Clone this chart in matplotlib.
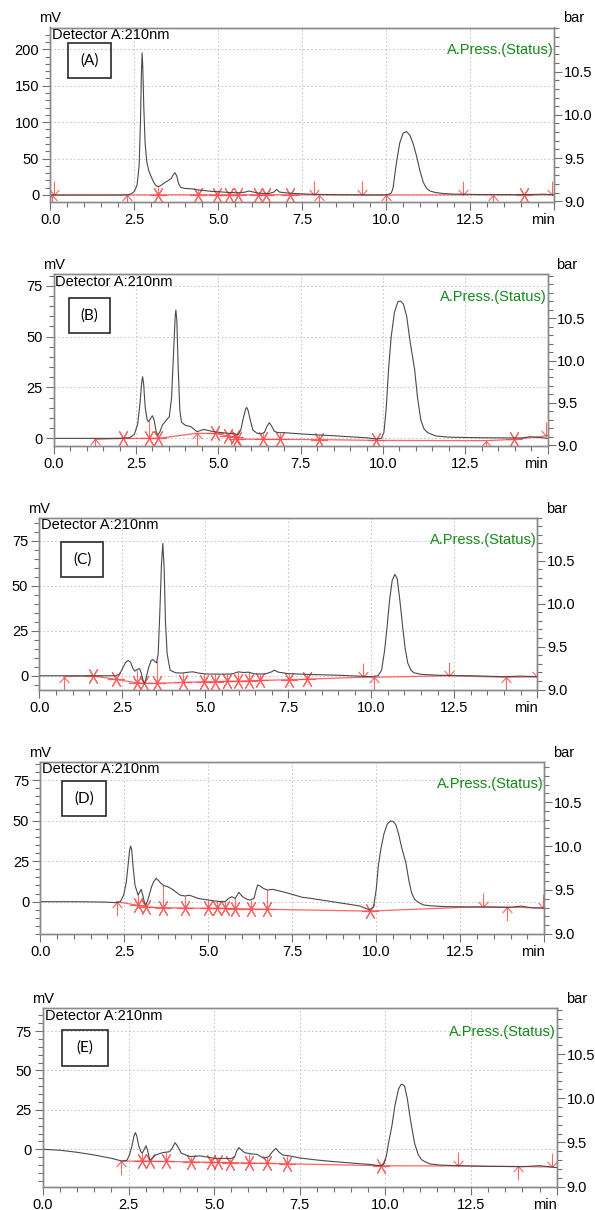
import numpy as np
import matplotlib
matplotlib.use('Agg')
import matplotlib.pyplot as plt
from matplotlib.path import Path
from matplotlib.patches import Rectangle
from matplotlib.ticker import MultipleLocator

plt.rcParams['font.family'] = ['Liberation Sans', 'DejaVu Sans']

# chromatogram traces: (retention time [min], signal [mV])
trace_a = [(0.0, 0.0), (0.5, 0.0), (1.0, 0.0), (1.5, 0.0), (2.0, 0.0), (2.3, 0.3), (2.4, 1.5),
           (2.5, 5), (2.58, 14), (2.64, 40), (2.68, 100), (2.71, 170), (2.73, 195), (2.75, 175),
           (2.78, 120), (2.82, 70), (2.87, 45), (2.93, 33), (3.0, 25), (3.08, 17), (3.15, 12.5),
           (3.22, 11.5), (3.3, 13.5), (3.4, 17), (3.5, 19.5), (3.6, 23), (3.66, 28), (3.71, 30.5),
           (3.76, 26), (3.82, 15), (3.88, 10.5), (4.0, 9), (4.2, 8.5), (4.4, 7), (4.6, 6), (4.8, 5),
           (5.0, 4.5), (5.3, 3.5), (5.6, 3), (5.8, 4), (5.9, 5.5), (6.0, 4.5), (6.2, 2.5), (6.5, 2),
           (6.65, 4), (6.73, 7.5), (6.82, 4), (7.0, 3), (7.3, 2), (7.6, 1.3), (8.0, 0.8), (8.5, 0.4),
           (9.0, 0.2), (9.5, 0), (9.9, 0), (10.05, 0.5), (10.15, 3), (10.2, 10), (10.25, 28),
           (10.3, 45), (10.4, 72), (10.5, 85), (10.6, 87), (10.7, 82), (10.8, 70), (10.9, 53),
           (10.95, 43), (11.0, 33), (11.1, 17), (11.2, 9), (11.3, 5.5), (11.45, 3.5), (11.7, 2),
           (12.0, 1.2), (12.5, 0.8), (13.0, 0.5), (13.5, 0.5), (14.0, 0.5), (14.5, 0.8), (14.7, 1.2),
           (14.85, 0.6), (15.0, 0.3)]

trace_b = [(0.0, 0), (0.5, 0), (1.0, 0), (1.5, 0), (2.0, 0), (2.3, 0.3), (2.45, 2), (2.55, 7),
           (2.62, 17), (2.67, 27), (2.7, 30.3), (2.73, 27), (2.78, 15), (2.84, 9), (2.88, 8.2),
           (2.95, 10), (3.0, 11.1), (3.05, 9), (3.11, 3.5), (3.16, 1.6), (3.22, 3), (3.3, 6.5),
           (3.42, 9), (3.51, 10.6), (3.58, 20), (3.64, 42), (3.69, 60), (3.71, 63), (3.74, 58),
           (3.78, 35), (3.83, 14), (3.88, 8), (3.99, 6.5), (4.17, 5.7), (4.35, 3.3), (4.45, 3.8),
           (4.55, 4.4), (4.8, 3.5), (5.0, 3), (5.3, 2.5), (5.5, 2.2), (5.6, 1.8), (5.68, 4),
           (5.76, 10), (5.83, 14.5), (5.86, 15.2), (5.9, 14), (5.97, 9), (6.05, 4), (6.18, 2.5),
           (6.3, 2.2), (6.4, 3), (6.48, 6), (6.55, 7.7), (6.62, 6), (6.7, 3.5), (6.81, 2.8),
           (7.0, 2.8), (7.5, 2.2), (8.0, 1.7), (8.5, 1.3), (9.0, 0.8), (9.5, 0.3), (9.8, -0.3),
           (9.95, 0), (10.03, 3), (10.1, 15), (10.17, 34), (10.25, 50), (10.35, 62), (10.45, 67),
           (10.53, 67.5), (10.62, 66), (10.72, 60), (10.82, 48), (10.9, 40), (10.96, 34),
           (11.05, 20), (11.15, 9), (11.25, 4.5), (11.36, 2.8), (11.6, 1.2), (12.0, 0.6),
           (13.0, 0.3), (14.2, 0.2), (14.47, 0.8), (14.7, 0.5), (15.0, 0)]

trace_c = [(0.0, 0), (0.5, 0), (1.0, 0), (1.5, 0), (2.0, 0), (2.3, 0), (2.42, 1), (2.52, 4.5),
           (2.6, 7.5), (2.68, 8.5), (2.75, 7.5), (2.82, 4), (2.88, 2.6), (2.95, 3.5), (3.02, 4),
           (3.08, 1), (3.13, -3), (3.17, -4.3), (3.22, -1), (3.3, 5), (3.37, 8.5), (3.42, 9),
           (3.48, 8), (3.53, 7.2), (3.58, 12), (3.63, 35), (3.68, 62), (3.72, 73.5), (3.76, 60),
           (3.8, 30), (3.85, 12.4), (3.94, 3.1), (4.1, 1.7), (4.3, 1.5), (4.5, 2), (4.62, 2.2),
           (4.8, 1.5), (5.0, 1), (5.5, 0.9), (5.8, 1), (6.0, 2.2), (6.15, 1.8), (6.3, 2), (6.5, 1),
           (6.8, 1), (7.0, 2.2), (7.08, 3.1), (7.2, 2), (7.5, 1.2), (8.0, 0.8), (9.0, 0.3),
           (10.0, -0.5), (10.2, 0), (10.31, 3), (10.4, 14), (10.48, 28), (10.55, 42), (10.63, 53),
           (10.71, 56.3), (10.78, 54), (10.86, 42), (10.94, 28), (11.02, 15), (11.1, 7), (11.2, 3),
           (11.28, 1.7), (11.5, 0.8), (12.0, 0.3), (13.0, 0), (14.0, -0.5), (14.5, -0.2), (15.0, -0.5)]

trace_d = [(0.0, 0), (0.5, 0), (1.0, 0), (1.5, -0.1), (2.0, -0.3), (2.24, -0.6), (2.38, 0), (2.48, 4),
           (2.56, 12), (2.62, 24), (2.66, 32), (2.69, 34.3), (2.72, 32), (2.76, 22), (2.82, 10),
           (2.91, 4.1), (2.96, 6), (3.0, 7.6), (3.05, 4), (3.1, -0.5), (3.14, -2), (3.2, 1),
           (3.31, 9.2), (3.38, 12.5), (3.45, 14.4), (3.52, 13), (3.59, 11.3), (3.68, 9.9), (3.8, 9.2),
           (3.93, 7.6), (4.16, 4.1), (4.3, 3.5), (4.44, 4), (4.7, 2), (5.0, 1), (5.3, 0.2), (5.5, 0),
           (5.6, 2), (5.7, 3.1), (5.8, 2), (5.91, 5.8), (6.02, 3), (6.15, 1.5), (6.25, 1), (6.36, 2),
           (6.42, 7), (6.47, 10.3), (6.55, 9.5), (6.64, 8.2), (6.75, 7.2), (6.92, 7.6), (7.2, 6.2),
           (7.5, 4.5), (7.8, 2.7), (8.0, 2.2), (8.5, 0.6), (9.0, -1), (9.5, -2.6), (9.8, -5.1),
           (9.92, -3), (10.0, 8), (10.06, 22), (10.14, 33), (10.23, 42), (10.33, 48), (10.42, 49.7),
           (10.5, 49.5), (10.58, 47.5), (10.66, 42), (10.76, 33), (10.88, 24), (10.97, 13),
           (11.05, 5.5), (11.14, 1.5), (11.22, 0), (11.4, -2), (11.6, -2.5), (12.0, -3), (13.0, -3.3),
           (14.0, -3.5), (14.3, -2.7), (14.6, -3.7), (15.0, -4.0)]

trace_e = [(0.0, -30), (0.01, 0), (0.5, -0.6), (1.0, -1.9), (1.5, -3.6), (2.0, -5.7), (2.3, -7.4),
           (2.45, -7), (2.52, -4), (2.6, 2), (2.66, 8.5), (2.7, 10.6), (2.74, 8.5), (2.8, 2),
           (2.86, -1.5), (2.9, -2.5), (2.96, 0), (3.01, 2.3), (3.06, -1), (3.12, -6.8), (3.2, -5.5),
           (3.29, -3.6), (3.5, -2.1), (3.7, -1.5), (3.78, 1), (3.86, 4.2), (3.93, 2), (4.04, -2.5),
           (4.3, -4.6), (4.6, -4.2), (5.0, -5.7), (5.5, -5.9), (5.6, -4.6), (5.66, -1), (5.72, 1.1),
           (5.8, -0.5), (5.89, -2.1), (6.1, -3), (6.25, -3.2), (6.45, -5.7), (6.6, -4.6), (6.7, -1.5),
           (6.8, 0.6), (6.88, -1.5), (7.0, -3.6), (7.2, -4.2), (7.5, -5.5), (8.0, -6.8), (8.5, -7.8),
           (9.0, -8.7), (9.5, -9.5), (9.85, -10.4), (9.95, -9.5), (10.03, -4), (10.1, 5), (10.19, 15),
           (10.28, 28), (10.38, 38), (10.45, 41), (10.5, 41.2), (10.56, 40), (10.64, 32), (10.7, 23),
           (10.76, 15), (10.85, 4), (10.95, -3), (11.05, -6.5), (11.15, -7.8), (11.3, -9.3),
           (11.6, -10), (12.0, -10.3), (13.0, -10.8), (14.0, -11), (14.5, -10.4), (15.0, -11.6)]

# integration marks: time, baseline level, kind ('*' boundary, 'up' start, 'down' end)
marks_a_time = [0.05, 0.1, 2.29, 3.21, 4.38, 4.95, 5.32, 5.59, 6.19, 6.41, 7.13, 7.85, 8.0,
                9.26, 9.98, 12.29, 13.18, 14.1, 14.94]
marks_a_mv = [0, 0, 0, 0.2, 0.3, 0.3, 0.3, 0.3, 0.3, 0.3, 0.3, 0.3, 0.2, 0.2, 0, 0.3, 0.2, 0.2, 0.2]
marks_a_kind = ['up', 'down', 'up', '*', '*', '*', '*', '*', '*', '*', '*', 'down', 'up',
                'down', 'up', 'down', 'up', '*', 'down']

marks_b_time = [1.25, 2.1, 2.9, 3.17, 4.36, 4.9, 5.28, 5.52, 5.56, 6.35, 6.86, 8.05, 9.8,
                13.14, 13.98, 14.96]
marks_b_mv = [-0.5, 0, 0, 0, 2.5, 2.4, 1.3, 0.6, -0.3, -0.5, -0.5, -0.6, -1.0, -1.1, -0.5, 1.2]
marks_b_kind = ['up', '*', '*', '*', 'up', '*', '*', '*', '*', '*', '*', '*', '*', 'up', '*', 'down']

marks_c_time = [0.74, 1.61, 2.3, 2.93, 3.15, 3.54, 4.34, 4.96, 5.29, 5.64, 5.98, 6.31, 6.65,
                7.52, 8.07, 9.74, 10.08, 12.34, 14.05, 14.98]
marks_c_mv = [-0.5, 0, -2, -3.9, -4.2, -4.2, -3.7, -3.3, -3.3, -3.1, -3.0, -2.8, -2.6, -2.2,
              -1.9, -0.8, -0.8, 0, -0.8, -0.6]
marks_c_kind = ['up', '*', '*', '*', '*', '*', '*', '*', '*', '*', '*', '*', '*', '*', '*',
                'down', 'up', 'down', 'up', 'down']

marks_d_time = [2.27, 2.92, 3.14, 3.66, 4.31, 5.0, 5.25, 5.5, 5.8, 6.26, 6.74, 9.8, 13.19, 13.9, 14.97]
marks_d_mv = [0, -2.3, -3.3, -3.7, -3.9, -4.1, -4.1, -4.1, -4.3, -4.5, -4.7, -5.8, -3.0, -3.4, -3.8]
marks_d_kind = ['up', '*', '*', '*', '*', '*', '*', '*', '*', '*', '*', '*', 'down', 'up', 'down']

marks_e_time = [2.29, 2.9, 3.14, 3.6, 4.31, 4.92, 5.11, 5.47, 6.03, 6.55, 7.13, 9.87, 12.12, 13.86, 14.86]
marks_e_mv = [-7.6, -7.4, -7.6, -7.7, -8.0, -8.3, -8.3, -8.4, -8.7, -8.9, -9.2, -10.4, -10.6, -10.9, -11.2]
marks_e_kind = ['up', '*', '*', '*', '*', '*', '*', '*', '*', '*', '*', '*', 'down', 'up', 'down']

panel_names = ['(A)', '(B)', '(C)', '(D)', '(E)']
mv_major = [50, 25, 25, 25, 25]
mv_minor = [10, 5, 5, 5, 5]
x_ticks = [0.0, 2.5, 5.0, 7.5, 10.0, 12.5, 15.0]
x_ticklabels = ['0.0', '2.5', '5.0', '7.5', '10.0', '12.5', 'min']
bar_ticks = [9.0, 9.5, 10.0, 10.5]

traces = [trace_a, trace_b, trace_c, trace_d, trace_e]
marks = [(marks_a_time, marks_a_mv, marks_a_kind), (marks_b_time, marks_b_mv, marks_b_kind),
         (marks_c_time, marks_c_mv, marks_c_kind), (marks_d_time, marks_d_mv, marks_d_kind),
         (marks_e_time, marks_e_mv, marks_e_kind)]

# layout in pixels: axes box (left, top, right, bottom), axis ranges, label box
W, H = 595, 1210
boxes_px = [(50.4, 27.5, 554.4, 201.7), (53.7, 274.3, 547.6, 445.5), (39.3, 517.7, 537.3, 690.0),
            (40.3, 761.7, 544.3, 934.3), (42.9, 1008.3, 556.7, 1187.0)]
mv_lims = [(-9.2, 229.9), (-3.5, 80.6), (-7.9, 87.8), (-20.1, 86.3), (-23.9, 89.4)]
bar_lims = [(8.995, 11.01), (8.995, 11.02), (8.995, 11.0), (8.995, 10.96), (8.995, 11.02)]
tag_boxes = [(0.035, 0.708, 0.085, 0.201), (0.031, 0.655, 0.084, 0.205), (0.044, 0.658, 0.084, 0.203),
             (0.044, 0.687, 0.087, 0.203), (0.038, 0.679, 0.089, 0.2)]

RED = '#ff4a4a'
GRID = '#c9c9c9'
SPINE = '#8a8a8a'

up_arrow = Path([(0, 0), (0, -1), (-0.35, -0.4), (0, 0), (0.35, -0.4)],
                [Path.MOVETO, Path.LINETO, Path.MOVETO, Path.LINETO, Path.LINETO])
down_arrow = Path([(0, 0), (0, 1), (-0.35, 0.4), (0, 0), (0.35, 0.4)],
                  [Path.MOVETO, Path.LINETO, Path.MOVETO, Path.LINETO, Path.LINETO])

fig = plt.figure(figsize=(W / 100, H / 100), dpi=100)

for i in range(5):
    l, t, r, b = boxes_px[i]
    ax = fig.add_axes([l / W, 1 - b / H, (r - l) / W, (b - t) / H])
    ax2 = ax.twinx()

    data = np.array(traces[i], dtype=float)
    tm, mv = data[:, 0], data[:, 1]
    mt, mm, mk = marks[i]
    mt = np.array(mt)
    mm = np.array(mm)
    mk = np.array(mk)

    # baseline through the integration marks
    ax.plot(mt, mm, color=RED, lw=0.9, alpha=0.85, zorder=3)
    # drop lines from boundaries to the signal
    star = mk == '*'
    top = np.interp(mt[star], tm, mv)
    ax.vlines(mt[star], mm[star], np.maximum(top, mm[star]), color=RED, lw=0.8, alpha=0.8, zorder=3)
    ax.plot(mt[star], mm[star], ls='none', marker=(6, 2, 30), ms=12, mec=RED, mew=0.8,
            alpha=0.85, zorder=4)
    ax.plot(mt[mk == 'up'], mm[mk == 'up'], ls='none', marker=up_arrow, ms=20, mec=RED,
            mfc='none', mew=0.8, alpha=0.85, zorder=4)
    ax.plot(mt[mk == 'down'], mm[mk == 'down'], ls='none', marker=down_arrow, ms=20, mec=RED,
            mfc='none', mew=0.8, alpha=0.85, zorder=4)

    ax.plot(tm, mv, color='#4a4a4a', lw=0.8, zorder=5)

    ax.set_xlim(0, 15)
    ax.set_ylim(*mv_lims[i])
    ax.set_xticks(x_ticks)
    ax.set_xticklabels(x_ticklabels)
    ax.get_xticklabels()[-1].set_horizontalalignment('right')
    ax.xaxis.set_minor_locator(MultipleLocator(0.5))
    ax.yaxis.set_major_locator(MultipleLocator(mv_major[i]))
    ax.yaxis.set_minor_locator(MultipleLocator(mv_minor[i]))
    ax.grid(True, which='major', ls=(0, (1.5, 2)), color=GRID, lw=0.8, zorder=0)
    ax.tick_params(which='both', direction='out', color='#707070', labelsize=10.5, width=0.8)
    ax.tick_params(which='major', length=6, pad=2)
    ax.tick_params(which='minor', length=3.5)

    ax2.set_ylim(*bar_lims[i])
    ax2.set_yticks(bar_ticks)
    ax2.set_yticklabels([f'{v:.1f}' for v in bar_ticks])
    ax2.yaxis.set_minor_locator(MultipleLocator(0.1))
    ax2.tick_params(which='both', direction='out', color='#707070', labelsize=10.5, width=0.8)
    ax2.tick_params(which='major', length=6, pad=1)
    ax2.tick_params(which='minor', length=3.5)

    for a in (ax, ax2):
        for s in a.spines.values():
            s.set_color(SPINE)
            s.set_linewidth(1.0)

    ax.annotate('mV', xy=(0, 1), xycoords='axes fraction', xytext=(0, 1.5),
                textcoords='offset points', ha='center', va='bottom', fontsize=10.5)
    ax.annotate('bar', xy=(1, 1), xycoords='axes fraction', xytext=(14, 1.5),
                textcoords='offset points', ha='center', va='bottom', fontsize=10.5)
    ax.annotate('Detector A:210nm', xy=(0, 1), xycoords='axes fraction', xytext=(1.2, -0.5),
                textcoords='offset points', ha='left', va='top', fontsize=10.5, zorder=6)
    ax.text(0.998, 0.87, 'A.Press.(Status)', transform=ax.transAxes, ha='right', va='center',
            color='#16891a', fontsize=10.5, zorder=6)

    bx, by, bw, bh = tag_boxes[i]
    ax.add_patch(Rectangle((bx, by), bw, bh, transform=ax.transAxes, fill=False,
                           edgecolor='#2a2a2a', lw=1.2, zorder=6))
    ax.text(bx + bw / 2, by + bh / 2, panel_names[i], transform=ax.transAxes, ha='center',
            va='center', fontsize=11, family=['Lato', 'DejaVu Sans'], zorder=6)

fig.savefig('out.png', dpi=100)
